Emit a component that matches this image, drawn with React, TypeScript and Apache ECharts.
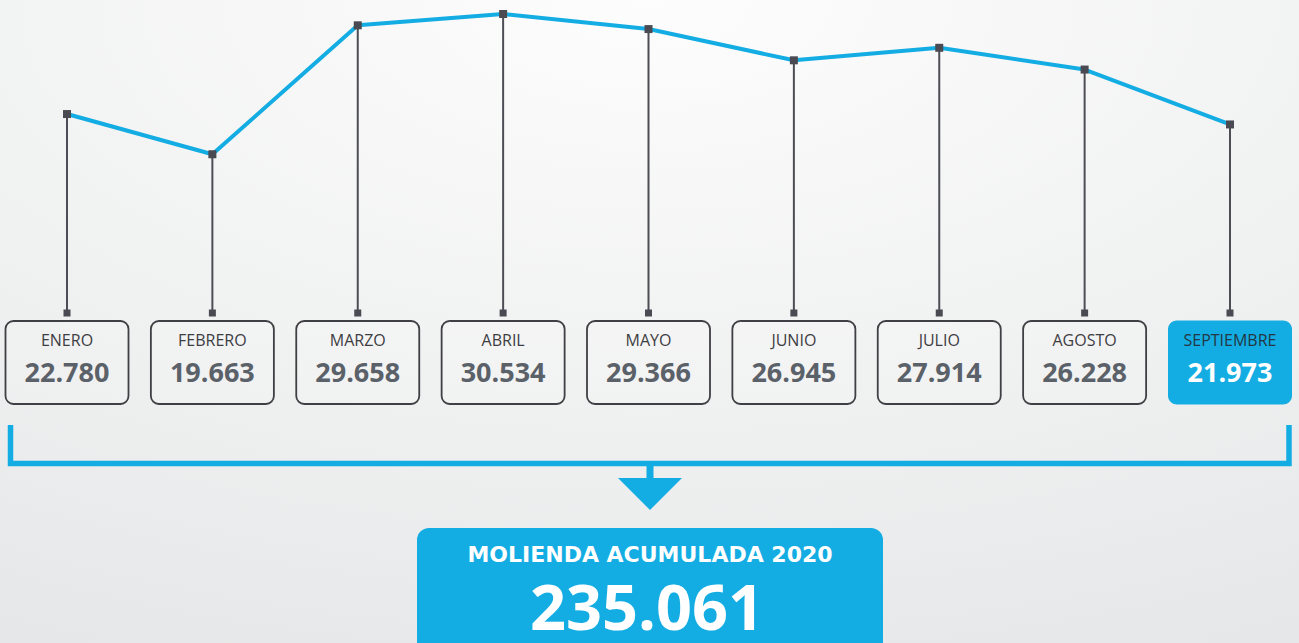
import React, { useEffect, useRef } from "react";
import * as echarts from "echarts";

const months = ["ENERO", "FEBRERO", "MARZO", "ABRIL", "MAYO", "JUNIO", "JULIO", "AGOSTO", "SEPTIEMBRE"];
const values = [22780, 19663, 29658, 30534, 29366, 26945, 27914, 26228, 21973];
const valueLabels = ["22.780", "19.663", "29.658", "30.534", "29.366", "26.945", "27.914", "26.228", "21.973"];
const highlightIndex = 8;
const totalTitle = "MOLIENDA ACUMULADA 2020";
const totalLabel = "235.061";

const BLUE = "#14ade3";
const DARK = "#4a4a52";
const FONT = "'Open Sans', 'Noto Sans', sans-serif";

export default function App() {
  const ref = useRef<HTMLDivElement>(null);
  useEffect(() => {
    const chart = echarts.init(ref.current!, undefined, { renderer: "svg" });
    const option: any = {
      animation: false,
      backgroundColor: {
        type: "radial",
        x: 0.5,
        y: 0,
        r: 1.25,
        colorStops: [
          { offset: 0, color: "#fdfdfd" },
          { offset: 1, color: "#e3e4e5" },
        ],
      },
      grid: { left: 67, right: 69, top: 8, height: 206.4, containLabel: false },
      xAxis: {
        type: "category",
        data: months,
        boundaryGap: false,
        show: false,
      },
      yAxis: { type: "value", min: 15000, max: 31000, show: false },
      series: [
        {
          type: "custom",
          z: 1,
          data: values.map((v, i) => [i, v]),
          renderItem: (params: any, api: any) => {
            const i = api.value(0);
            const p = api.coord([i, api.value(1)]);
            const x = p[0];
            const hl = i === highlightIndex;
            const boxW = 123;
            const boxH = 83;
            return {
              type: "group",
              children: [
                {
                  type: "line",
                  shape: { x1: x, y1: p[1], x2: x, y2: 313 },
                  style: { stroke: "#4d4d55", lineWidth: 2 },
                },
                {
                  type: "rect",
                  shape: { x: x - 3.5, y: 309.5, width: 7, height: 7 },
                  style: { fill: DARK },
                },
                {
                  type: "rect",
                  shape: { x: x - boxW / 2, y: 321, width: boxW, height: boxH, r: 8 },
                  style: hl
                    ? { fill: BLUE, stroke: BLUE, lineWidth: 1 }
                    : { fill: "rgba(255,255,255,0.15)", stroke: "#3f3f44", lineWidth: 1.8 },
                },
                {
                  type: "text",
                  style: {
                    text: months[i],
                    x: x,
                    y: 340,
                    align: "center",
                    verticalAlign: "middle",
                    fill: hl ? "#233744" : "#3d3d42",
                    font: `normal 16px ${FONT}`,
                  },
                },
                {
                  type: "text",
                  style: {
                    text: valueLabels[i],
                    x: x,
                    y: 371,
                    align: "center",
                    verticalAlign: "middle",
                    fill: hl ? "#ffffff" : "#5b6169",
                    font: `bold 27px ${FONT}`,
                  },
                },
              ],
            };
          },
        },
        {
          type: "line",
          z: 3,
          data: values,
          symbol: "rect",
          symbolSize: 8,
          itemStyle: { color: DARK },
          lineStyle: { color: BLUE, width: 4 },
        },
      ],
      graphic: [
        {
          type: "polyline",
          shape: { points: [[10.5, 425], [10.5, 463.5], [1289, 463.5], [1289, 425]] },
          style: { stroke: BLUE, lineWidth: 5.5, fill: null },
        },
        {
          type: "rect",
          shape: { x: 646.5, y: 463, width: 7, height: 17 },
          style: { fill: BLUE },
        },
        {
          type: "polygon",
          shape: { points: [[618, 478], [682, 478], [650, 510]] },
          style: { fill: BLUE },
        },
        {
          type: "rect",
          shape: { x: 417, y: 528, width: 466, height: 140, r: 12 },
          style: { fill: BLUE },
        },
        {
          type: "text",
          style: {
            text: totalTitle,
            x: 650,
            y: 554,
            align: "center",
            verticalAlign: "middle",
            fill: "#ffffff",
            font: `bold 22px 'DejaVu Sans', sans-serif`,
            lineHeight: 22,
          },
        },
        {
          type: "text",
          style: {
            text: totalLabel,
            x: 647,
            y: 605,
            align: "center",
            verticalAlign: "middle",
            fill: "#ffffff",
            font: `bold 63px ${FONT}`,
            lineHeight: 50,
          },
        },
      ],
    };
    chart.setOption(option);
    return () => chart.dispose();
  }, []);
  return (
    <div
      ref={ref}
      style={{ position: "absolute", left: 0, top: 0, width: 1299, height: 643 }}
    />
  );
}
